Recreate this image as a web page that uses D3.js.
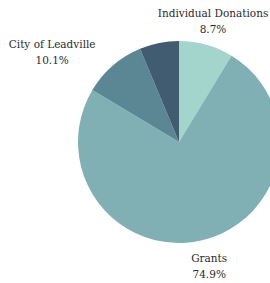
<!DOCTYPE html>
<html><head><meta charset="utf-8">
<script src="https://cdn.jsdelivr.net/npm/d3@7"></script>
<style>html,body{margin:0;padding:0;background:#fff;overflow:hidden}</style>
</head><body>
<svg id="c" width="270" height="283"></svg>
<script>
const categories = ["Individual Donations", "Grants", "City of Leadville", "Other"];
const values = [8.7, 74.9, 10.1, 6.3];
const labels = ["8.7%", "74.9%", "10.1%", ""];
const colors = ["#a4d5cd", "#80b0b3", "#5b8795", "#415b71"];

const svg = d3.select("#c");
const cx = 179, cy = 142, r = 101;
const g = svg.append("g").attr("transform", `translate(${cx},${cy})`);
const pie = d3.pie().sort(null).value(d => d.v);
const data = pie(categories.map((c, i) => ({c, v: values[i], l: labels[i], col: colors[i]})));
const arc = d3.arc().innerRadius(0).outerRadius(r);
g.selectAll("path").data(data).join("path")
  .attr("d", arc).attr("fill", d => d.data.col);

const labelArc = d3.arc().innerRadius(126).outerRadius(126);
g.selectAll("text.lab").data(data.filter(d => d.data.l)).join("text")
  .attr("class", "lab")
  .attr("font-family", "'DejaVu Serif', serif")
  .attr("font-size", 10.5)
  .attr("fill", "#2a2a2a")
  .attr("text-anchor", "middle")
  .each(function(d) {
    let [x, y] = labelArc.centroid(d);
    const t = d3.select(this);
    const t1 = t.append("tspan").text(d.data.c);
    const t2 = t.append("tspan").text(d.data.l);
    if (x < -50) {
      const w = t1.node().getComputedTextLength();
      x = x - w / 2 - 1;
      y = y + 5;
    }
    if (y > 50) y = y + 2;
    t1.attr("x", x).attr("y", y - 4);
    t2.attr("x", x).attr("y", y + 12);
  });
</script>
</body></html>
